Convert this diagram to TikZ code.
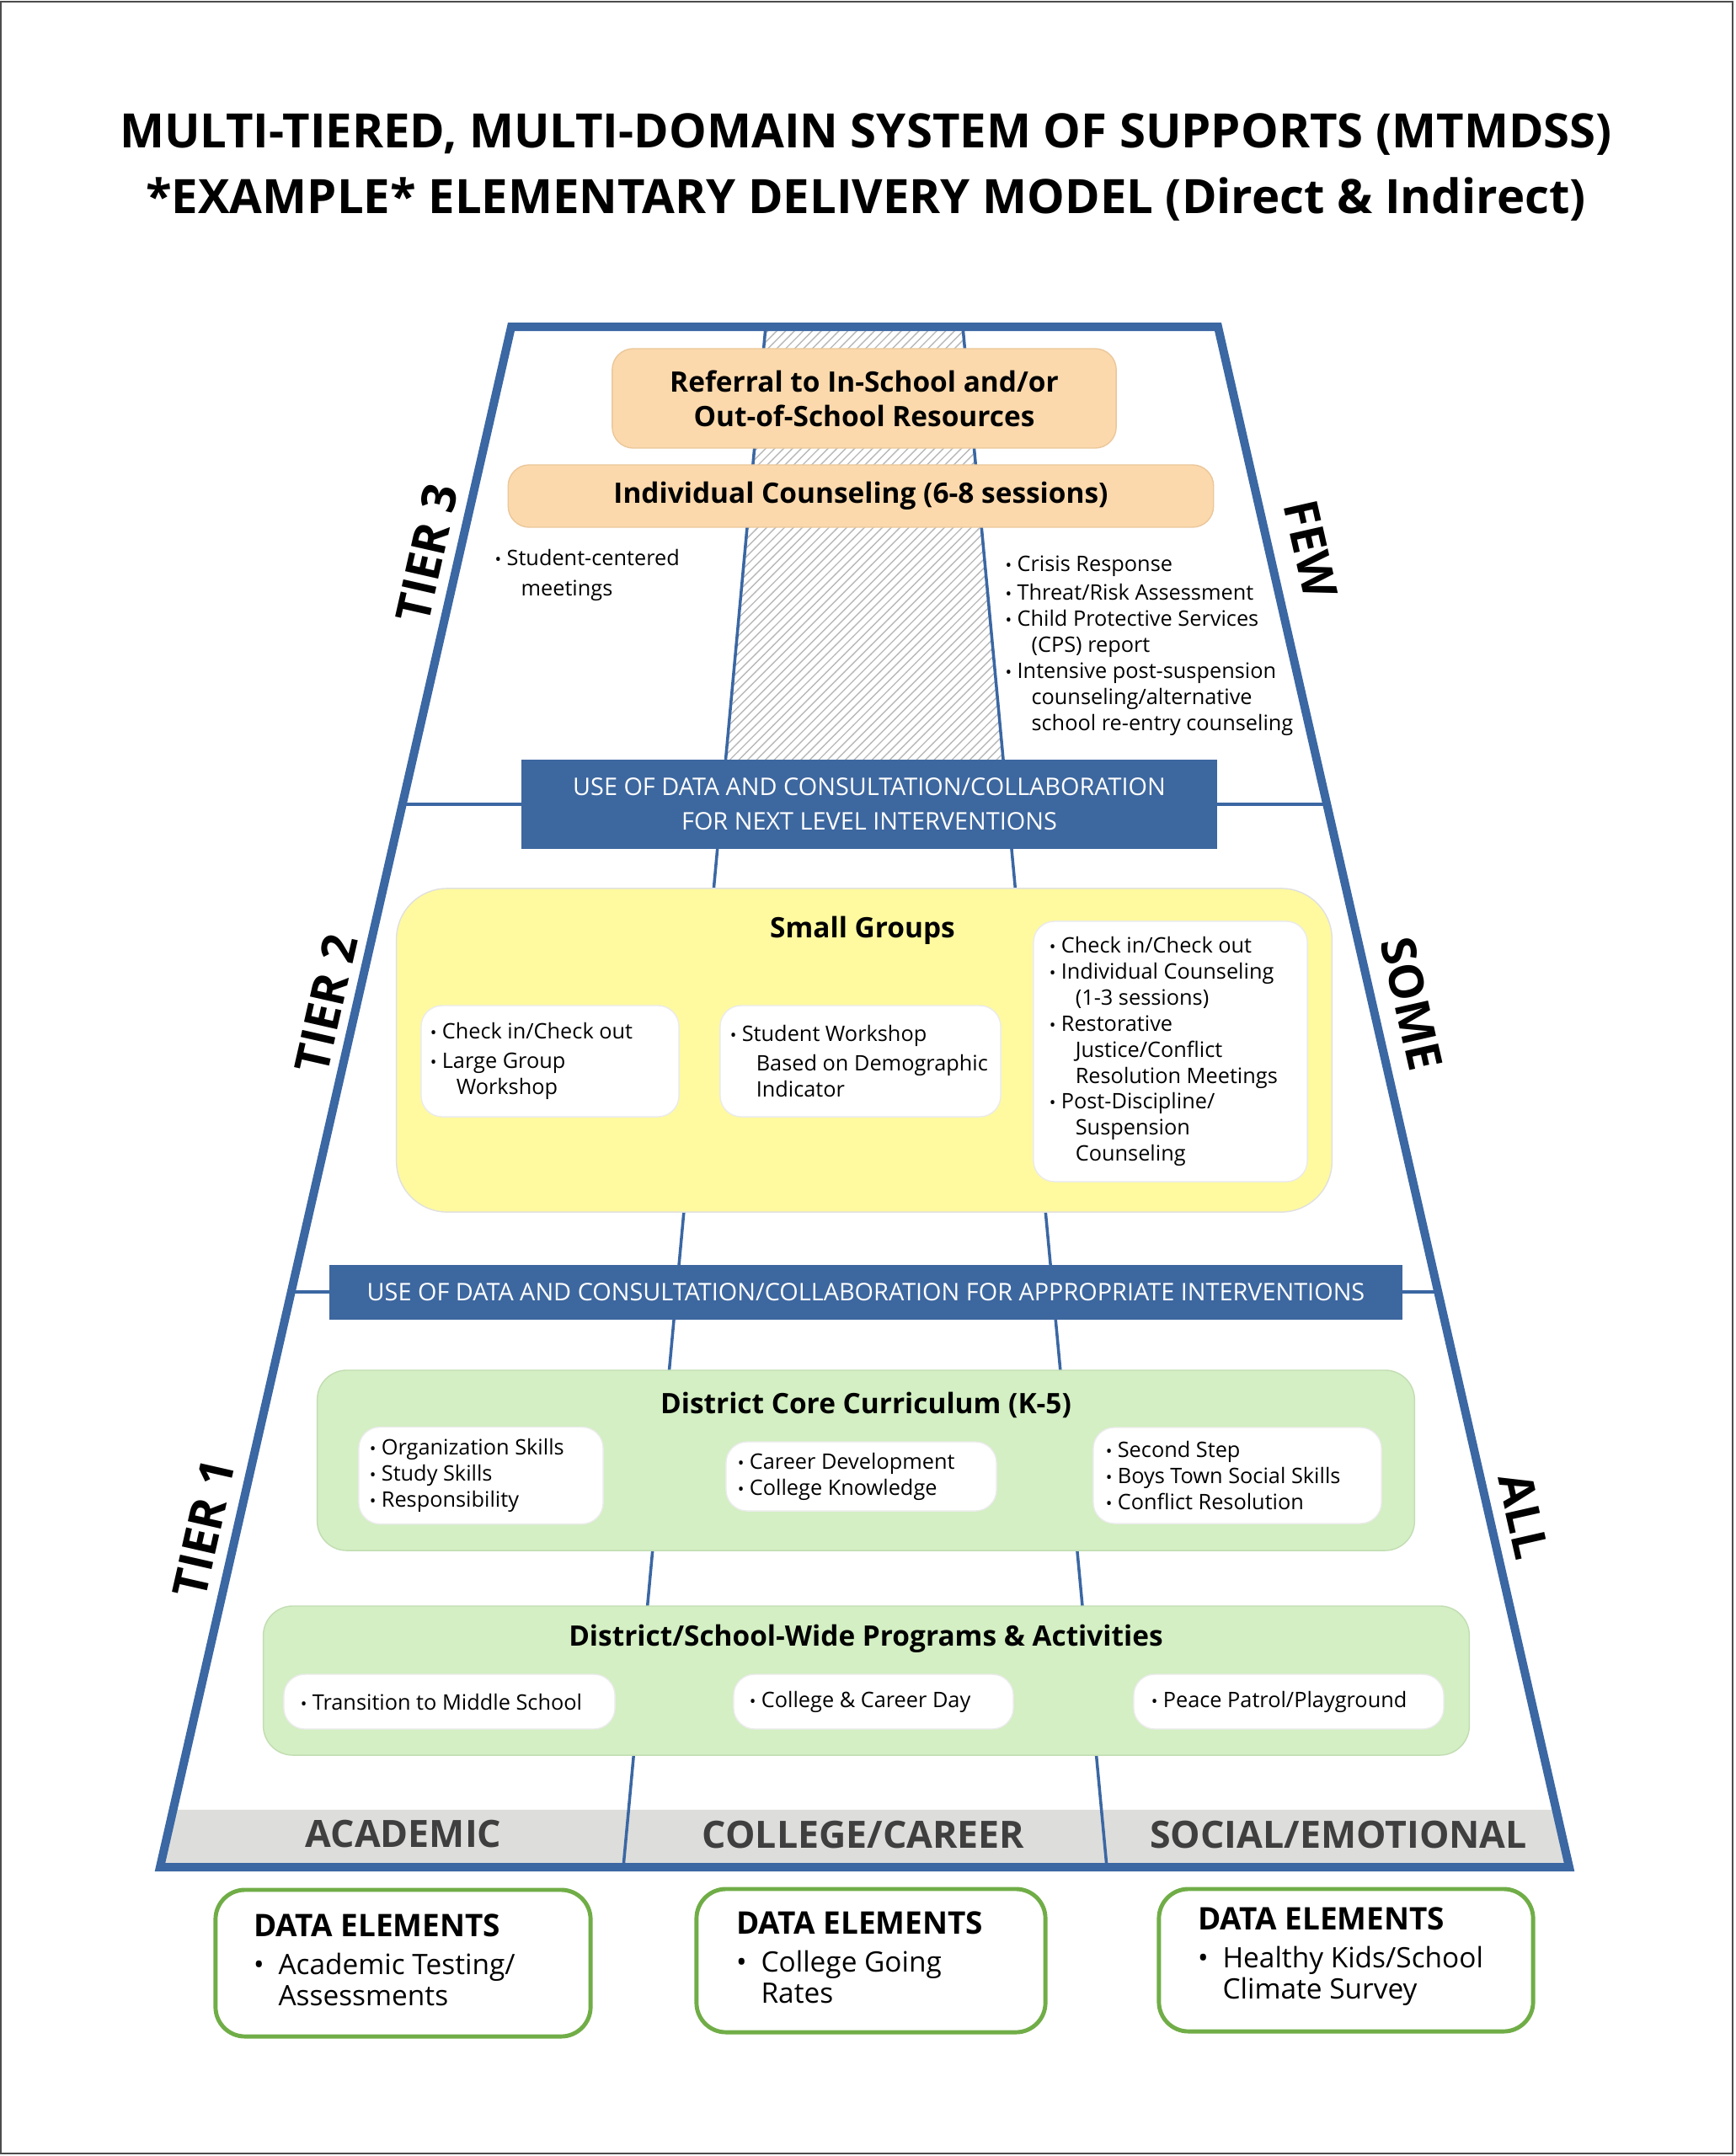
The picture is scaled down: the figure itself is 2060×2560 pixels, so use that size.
\documentclass[tikz,border=0pt]{standalone}
\usepackage{fontspec}
\setmainfont{Open Sans}
\usepackage{graphicx}
\usetikzlibrary{calc,patterns}
\definecolor{tierblue}{HTML}{3B67A3}
\definecolor{bandblue}{HTML}{3D679F}
\definecolor{peach}{HTML}{FBD9AC}
\definecolor{peachline}{HTML}{EBC79B}
\definecolor{lemon}{HTML}{FFFA9F}
\definecolor{mint}{HTML}{D3EFC3}
\definecolor{mintline}{HTML}{C2DDB2}
\definecolor{dataline}{HTML}{70AD47}
\definecolor{domaingray}{HTML}{DDDDDB}
\definecolor{labelgray}{HTML}{3F3F3F}
\newcommand{\bul}{\makebox[0.55em][l]{\scalebox{0.8}{\textbullet}}}
\newcommand{\ind}{\hspace*{1.22em}}
\newcommand{\dbul}{\makebox[0.88em][l]{\textbullet}}
\newcommand{\dind}{\hspace*{0.88em}}
\tikzstyle{every node}=[font=\fontsize{7.2}{8.8}\selectfont]
\tikzstyle{headline}=[align=center,font=\fontsize{16}{22.2}\selectfont\bfseries]
\tikzstyle{divider}=[draw=tierblue,line width=1pt]
\tikzstyle{band}=[fill=bandblue,text=white,align=center,inner sep=0pt,font=\fontsize{8.2}{11.7}\selectfont]
\tikzstyle{peachbox}=[draw=peachline,fill=peach,rounded corners=0.25cm,align=center,font=\fontsize{9.5}{11.7}\selectfont\bfseries]
\tikzstyle{lemonbox}=[draw=black!12,fill=lemon,rounded corners=0.6cm]
\tikzstyle{mintbox}=[draw=mintline,fill=mint,rounded corners=0.35cm]
\tikzstyle{whitebox}=[draw=black!8,fill=white,rounded corners=0.25cm]
\tikzstyle{databox}=[draw=dataline,line width=1.4pt,fill=white,rounded corners=0.35cm]
\tikzstyle{heading}=[font=\fontsize{9.5}{11}\selectfont\bfseries]
\tikzstyle{itemlist}=[align=left,inner sep=0pt]
\tikzstyle{datatext}=[align=left,inner sep=0pt,font=\fontsize{9.5}{10.5}\selectfont]
\tikzstyle{tierlabel}=[font=\fontsize{16}{16}\selectfont\bfseries]
\tikzstyle{domainlabel}=[text=labelgray,font=\fontsize{12.7}{13}\selectfont\bfseries]
\begin{document}
\begin{tikzpicture}[x=0.01cm,y=-0.01cm]
\useasboundingbox (0,0) rectangle (2060,2560);
\draw[black!70,line width=0.6pt] (1,2) rectangle (2057,2557);
\node[headline] (head) at (1028,199) {MULTI-TIERED, MULTI-DOMAIN SYSTEM OF SUPPORTS (MTMDSS)\\{}*EXAMPLE* ELEMENTARY DELIVERY MODEL (Direct \& Indirect)};
\coordinate (tl) at (607,388);
\coordinate (tr) at (1446,388);
\coordinate (bl) at (190,2217);
\coordinate (br) at (1863,2217);
\coordinate (ltop) at (909,388);
\coordinate (lbot) at (740,2217);
\coordinate (rtop) at (1143,388);
\coordinate (rbot) at (1314,2217);
\fill[domaingray] ($(bl)!0.0372!(tl)$) -- ($(br)!0.0372!(tr)$) -- (br) -- (bl) -- cycle;
\fill[pattern=north east lines,pattern color=black!28] (ltop) -- (rtop) -- ($(rtop)!0.29!(rbot)$) -- ($(ltop)!0.29!(lbot)$) -- cycle;
\draw[divider] (ltop) -- (lbot);
\draw[divider] (rtop) -- (rbot);
\draw[divider] ($(tl)!0.31!(bl)$) -- ($(tr)!0.31!(br)$);
\draw[divider] ($(tl)!0.6266!(bl)$) -- ($(tr)!0.6266!(br)$);
\draw[tierblue,line width=0.1cm] (tl) -- (tr) -- (br) -- (bl) -- cycle;
\node[band,minimum width=8.25cm,minimum height=1.06cm] (nextlevel) at (1032,955) {USE OF DATA AND CONSULTATION/COLLABORATION\\FOR NEXT LEVEL INTERVENTIONS};
\node[band,minimum width=12.74cm,minimum height=0.65cm] (appropriate) at (1028,1534) {USE OF DATA AND CONSULTATION/COLLABORATION FOR APPROPRIATE INTERVENTIONS};
\node[peachbox,minimum width=5.98cm,minimum height=1.18cm] (referral) at (1026,473) {Referral to In-School and/or\\Out-of-School Resources};
\node[peachbox,minimum width=8.37cm,minimum height=0.74cm] (indiv) at (1022,589) {Individual Counseling (6-8 sessions)};
\node[itemlist,anchor=north west] (student) at (587,652) {\bul Student-centered\\[1.4pt]\ind meetings};
\node[itemlist,anchor=north west] (crisis) at (1193,659) {\bul Crisis Response\\[1pt]\bul Threat/Risk Assessment\\\bul Child Protective Services\\\ind (CPS) report\\\bul Intensive post-suspension\\\ind counseling/alternative\\\ind school re-entry counseling};
\node[lemonbox,minimum width=11.1cm,minimum height=3.84cm] (small) at (1026,1247) {};
\node[heading] (smalltitle) at (1024,1105) {Small Groups};
\node[whitebox,minimum width=3.06cm,minimum height=1.32cm] (sg1) at (653,1260) {};
\node[whitebox,minimum width=3.33cm,minimum height=1.32cm] (sg2) at (1021.5,1260) {};
\node[whitebox,minimum width=3.25cm,minimum height=3.09cm] (sg3) at (1389.5,1248.5) {};
\node[itemlist,anchor=west] (sg1text) at ([xshift=0.11cm]sg1.west) {\bul Check in/Check out\\[1pt]\bul Large Group\\\ind Workshop};
\node[itemlist,anchor=west] (sg2text) at ([xshift=0.12cm]sg2.west) {\bul Student Workshop\\[1pt]\ind Based on Demographic\\\ind Indicator};
\node[itemlist,anchor=west] (sg3text) at ([xshift=0.19cm]sg3.west) {\bul Check in/Check out\\\bul Individual Counseling\\\ind (1-3 sessions)\\\bul Restorative\\\ind Justice/Conflict\\\ind Resolution Meetings\\\bul Post-Discipline/\\\ind Suspension\\\ind Counseling};
\node[mintbox,minimum width=13.02cm,minimum height=2.14cm] (core) at (1028,1734) {};
\node[heading] (coretitle) at (1028,1668) {District Core Curriculum (K-5)};
\node[whitebox,minimum width=2.90cm,minimum height=1.15cm] (cc1) at (571,1752) {};
\node[whitebox,minimum width=3.21cm,minimum height=0.82cm] (cc2) at (1022.5,1753) {};
\node[whitebox,minimum width=3.42cm,minimum height=1.14cm] (cc3) at (1469,1752) {};
\node[itemlist,anchor=west] (cc1text) at ([xshift=0.13cm]cc1.west) {\bul Organization Skills\\\bul Study Skills\\\bul Responsibility};
\node[itemlist,anchor=west] (cc2text) at ([xshift=0.14cm]cc2.west) {\bul Career Development\\\bul College Knowledge};
\node[itemlist,anchor=west] (cc3text) at ([xshift=0.15cm]cc3.west) {\bul Second Step\\\bul Boys Town Social Skills\\\bul Conflict Resolution};
\node[mintbox,minimum width=14.31cm,minimum height=1.77cm] (programs) at (1028.5,1995.5) {};
\node[heading] (programstitle) at (1028,1946) {District/School-Wide Programs \& Activities};
\node[whitebox,minimum width=3.93cm,minimum height=0.65cm] (pr1) at (533.5,2020.5) {};
\node[whitebox,minimum width=3.32cm,minimum height=0.65cm] (pr2) at (1037,2020.5) {};
\node[whitebox,minimum width=3.68cm,minimum height=0.65cm] (pr3) at (1530,2020.5) {};
\node[itemlist,anchor=west] (pr1text) at ([xshift=0.2cm]pr1.west) {\bul Transition to Middle School};
\node[itemlist,anchor=west] (pr2text) at ([xshift=0.19cm]pr2.west) {\bul College \& Career Day};
\node[itemlist,anchor=west] (pr3text) at ([xshift=0.21cm]pr3.west) {\bul Peace Patrol/Playground};
\node[domainlabel] (academic) at (479,2178) {ACADEMIC};
\node[domainlabel] (career) at (1025,2178) {COLLEGE/CAREER};
\node[domainlabel] (social) at (1589,2178) {SOCIAL/EMOTIONAL};
\node[tierlabel,rotate=77.2] (tier3) at (507,657) {TIER 3};
\node[tierlabel,rotate=77.2] (tier2) at (387,1192) {TIER 2};
\node[tierlabel,rotate=77.2] (tier1) at (242,1815) {TIER 1};
\node[tierlabel,rotate=-77.2] (few) at (1556,652) {FEW};
\node[tierlabel,rotate=-77.2] (some) at (1676,1192) {SOME};
\node[tierlabel,rotate=-77.2] (all) at (1809,1800) {ALL};
\node[databox,minimum width=4.45cm,minimum height=1.74cm] (acadata) at (478.5,2331) {};
\node[databox,minimum width=4.14cm,minimum height=1.70cm] (cardata) at (1034,2328) {};
\node[databox,minimum width=4.44cm,minimum height=1.69cm] (socdata) at (1598,2327.5) {};
\node[datatext,anchor=west] (acatext) at ([xshift=0.47cm,yshift=0.04cm]acadata.west) {{\fontsize{10.5}{10.5}\selectfont\bfseries DATA ELEMENTS}\\[2.3pt]\dbul Academic Testing/\\\dind Assessments};
\node[datatext,anchor=west] (cartext) at ([xshift=0.49cm,yshift=0.04cm]cardata.west) {{\fontsize{10.5}{10.5}\selectfont\bfseries DATA ELEMENTS}\\[2.3pt]\dbul College Going\\\dind Rates};
\node[datatext,anchor=west] (soctext) at ([xshift=0.48cm,yshift=0.04cm]socdata.west) {{\fontsize{10.5}{10.5}\selectfont\bfseries DATA ELEMENTS}\\[2.3pt]\dbul Healthy Kids/School\\\dind Climate Survey};
\end{tikzpicture}
\end{document}
